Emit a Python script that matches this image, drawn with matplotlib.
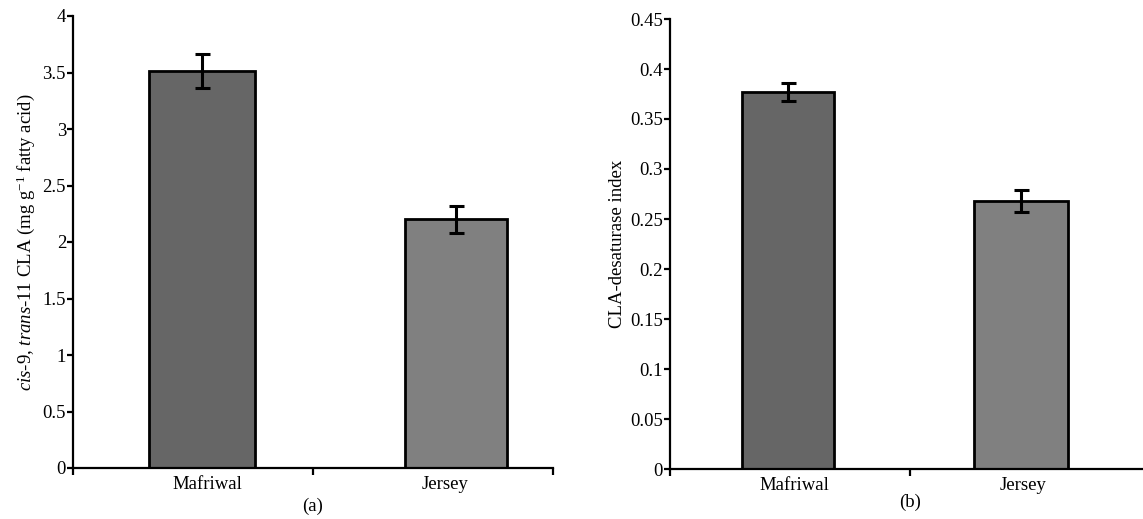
import matplotlib
matplotlib.use("Agg")
import matplotlib.pyplot as plt
from matplotlib.ticker import FuncFormatter

categories = ["Mafriwal", "Jersey"]
cla_values = [3.51, 2.20]
cla_errors = [0.15, 0.12]
index_values = [0.377, 0.268]
index_errors = [0.009, 0.011]
bar_colors = ["#666666", "#808080"]
panel_labels = ["(a)", "(b)"]

plt.rcParams['font.family'] = ['Liberation Serif', 'DejaVu Serif']
plt.rcParams['mathtext.fontset'] = 'custom'
plt.rcParams['mathtext.rm'] = 'Liberation Serif'
plt.rcParams['mathtext.it'] = 'Liberation Serif:italic'

FS = 13.5

fig = plt.figure(figsize=(11.43, 5.19), dpi=100)
W, H = 1143, 519

def make_axes(x0, ybottom, ytop):
    return fig.add_axes([x0 / W, (H - ybottom) / H, 480 / W, (ybottom - ytop) / H])

axA = make_axes(73, 468, 16)
axB = make_axes(670, 469, 19)

def style(ax, ymax, ystep, centers, widths, values, errors, label_pos, plabel, plabel_y):
    ax.bar(centers, values, width=widths, color=bar_colors, edgecolor='black',
           linewidth=2.0, zorder=2)
    ax.errorbar(centers, values, yerr=errors, fmt='none', ecolor='black',
                elinewidth=2.2, capsize=5.4, capthick=2.2, zorder=3)
    ax.set_xlim(0, 2)
    ax.set_ylim(0, ymax)
    n = int(round(ymax / ystep))
    ax.set_yticks([i * ystep for i in range(n + 1)])
    ax.yaxis.set_major_formatter(FuncFormatter(lambda v, p: ('%g' % round(v, 4))))
    ax.set_xticks([0, 1, 2])
    ax.set_xticklabels(['', '', ''])
    ax.set_xticks(label_pos, minor=True)
    ax.set_xticklabels(categories, minor=True)
    ax.tick_params(axis='x', which='minor', length=0, pad=6, labelsize=FS)
    ax.tick_params(axis='x', which='major', length=5, width=1.6, direction='out')
    ax.tick_params(axis='y', which='major', length=4, width=1.6, direction='out',
                   pad=1, labelsize=FS)
    for s in ['top', 'right']:
        ax.spines[s].set_visible(False)
    for s in ['left', 'bottom']:
        ax.spines[s].set_linewidth(1.6)
    ax.text(1, plabel_y, plabel, transform=ax.get_xaxis_transform(),
            ha='center', va='center', fontsize=FS)

style(axA, 4, 0.5, [0.5375, 1.596], [0.44, 0.425], cla_values, cla_errors,
      [0.558, 1.55], panel_labels[0], -0.084)
style(axB, 0.45, 0.05, [0.49, 1.462], [0.383, 0.39], index_values, index_errors,
      [0.52, 1.47], panel_labels[1], -0.073)

axA.set_ylabel(r'$\it{cis}$-9, $\it{trans}$-11 CLA (mg g$^{-1}$ fatty acid)',
               fontsize=FS, labelpad=4)
axB.set_ylabel('CLA-desaturase index', fontsize=FS, labelpad=3)

fig.savefig('out.png', dpi=100)
